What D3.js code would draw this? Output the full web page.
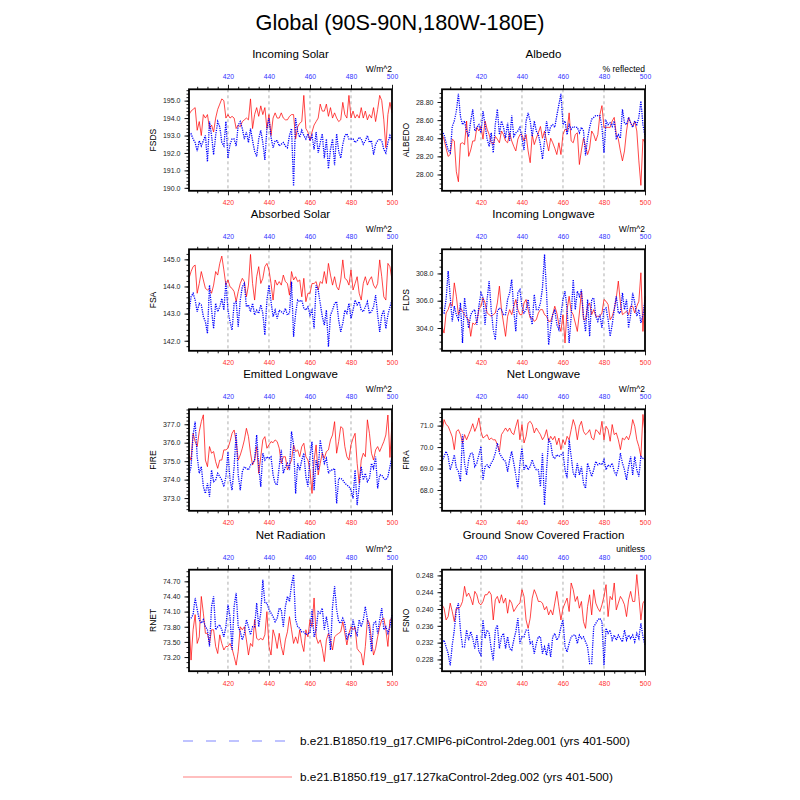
<!DOCTYPE html>
<html lang="en">
<head>
<meta charset="UTF-8">
<title>Global (90S-90N,180W-180E)</title>
<style>
  * { margin: 0; padding: 0; }
  body { background: #fff; }
  svg { display: block; font-family: "Liberation Sans", Arial, Helvetica, sans-serif; }
</style>
</head>
<body>
<script src="https://cdn.jsdelivr.net/npm/d3@7/dist/d3.min.js"></script>
<script>
// years 401-500, one value per model year
var years = d3.range(401, 501);

// piControl (blue) and 127ka (red) series
var fsdsCtl = [193.0,193.1,192.8,192.6,192.1,192.7,192.4,192.7,193.0,191.5,
  193.8,193.0,191.9,193.0,193.8,193.5,192.6,192.4,193.8,191.7,
  192.5,192.8,192.8,192.4,193.6,193.8,193.4,192.8,193.2,192.6,
  193.4,192.7,192.1,191.8,192.8,193.3,192.6,191.6,193.4,194.0,
  192.9,192.3,192.7,192.7,192.4,192.5,192.6,192.4,192.3,193.0,
  193.4,190.1,194.0,193.2,192.9,193.3,193.0,192.8,193.1,192.7,
  193.0,192.2,193.2,192.0,192.6,193.1,191.7,192.8,191.1,192.2,
  192.8,191.3,193.1,192.1,191.7,192.5,193.0,193.1,192.8,192.8,
  192.8,192.6,192.7,192.9,192.8,192.5,192.7,193.0,192.6,192.7,
  191.9,192.5,192.7,192.8,192.7,192.2,192.0,192.6,193.0,192.7];
var fsds127 = [194.2,194.4,194.5,194.6,193.3,193.8,193.0,194.2,194.0,194.2,
  193.4,193.6,193.2,194.0,194.5,194.8,195.1,195.0,194.0,194.2,
  194.0,194.1,194.0,193.4,193.6,193.5,193.8,193.9,194.0,193.9,
  195.1,193.4,194.2,194.6,194.1,194.7,194.2,194.6,193.4,194.2,
  193.0,194.0,194.3,194.0,194.0,194.3,194.0,193.9,193.9,194.1,
  194.2,194.2,192.8,193.5,193.7,193.8,195.3,193.4,193.2,192.7,
  193.2,193.6,193.8,194.0,194.8,194.4,194.4,194.8,194.1,194.6,
  194.0,194.3,194.0,193.8,193.9,194.9,194.2,194.0,195.3,194.0,
  194.4,194.0,194.2,194.0,194.6,194.0,194.4,193.9,194.2,194.0,
  194.6,193.8,194.5,195.3,195.0,193.9,192.3,194.2,194.9,194.3];

var albedoCtl = [28.48,28.44,28.35,28.27,28.24,28.53,28.59,28.70,28.89,28.64,
  28.55,28.59,28.48,28.42,28.59,28.72,28.48,28.52,28.55,28.46,
  28.70,28.55,28.39,28.31,28.46,28.24,28.55,28.72,28.44,28.59,
  28.52,28.40,28.57,28.37,28.65,28.42,28.46,28.48,28.52,28.40,
  28.27,28.59,28.68,28.59,28.42,28.59,28.48,28.44,28.33,28.17,
  28.37,28.59,28.44,28.53,28.55,28.52,28.65,28.77,28.89,28.55,
  28.59,28.44,28.55,28.50,28.53,28.52,28.52,28.46,28.52,28.48,
  28.21,28.40,28.52,28.61,28.63,28.65,28.65,28.65,28.52,28.24,
  28.59,28.55,28.57,28.53,28.59,28.40,28.44,28.40,28.72,28.57,
  28.55,28.63,28.57,28.52,28.59,28.55,28.63,28.81,28.55,28.42];
var albedo127 = [28.44,28.39,28.29,28.20,28.22,28.39,28.37,28.03,27.92,28.34,
  28.35,28.33,28.59,28.20,28.27,28.37,28.37,28.52,28.48,28.53,
  28.39,28.59,28.50,28.44,28.35,28.33,28.42,28.39,28.35,28.48,
  28.44,28.37,28.35,28.46,28.37,28.31,28.26,28.39,28.44,28.44,
  28.37,28.44,28.26,28.13,28.44,28.33,28.40,28.46,28.53,28.40,
  28.48,28.37,28.26,28.40,28.35,28.29,28.22,28.35,28.22,28.44,
  28.50,28.48,28.68,28.37,28.35,28.44,28.46,28.11,28.27,28.40,
  28.31,28.22,28.29,28.48,28.44,28.37,28.44,28.66,28.76,28.52,
  28.52,28.52,28.52,28.59,28.63,28.44,28.39,28.26,28.15,28.26,
  28.48,28.63,28.57,28.53,28.59,28.48,28.15,27.88,28.39,28.35];

var fsaCtl = [143.01,143.62,143.75,143.50,143.07,143.38,143.32,142.89,142.70,142.27,
  144.05,143.13,142.45,143.38,143.07,143.25,143.56,143.13,144.18,143.13,
  142.70,142.39,143.38,143.44,142.52,143.50,143.99,144.11,143.25,143.32,
  143.07,143.38,142.95,143.13,143.01,143.32,143.01,142.21,143.50,144.05,
  143.44,142.89,143.13,142.82,143.13,143.07,143.01,143.19,142.95,143.01,
  144.18,142.15,143.01,143.50,143.44,143.50,143.19,143.13,143.25,142.95,
  143.13,142.45,144.05,143.87,143.38,142.89,142.58,143.13,141.78,142.95,
  143.13,143.38,143.44,142.76,142.33,142.64,143.13,143.01,143.38,142.82,
  143.13,143.50,143.32,143.44,143.13,143.07,143.25,143.44,143.01,143.07,
  143.25,143.68,142.95,142.33,142.95,143.13,142.45,142.95,143.25,143.50];
var fsa127 = [144.30,144.55,144.73,144.79,143.75,144.11,144.55,144.24,143.93,143.87,
  143.93,143.75,144.05,144.55,144.42,144.85,145.12,144.61,144.05,144.24,
  143.99,143.93,143.81,143.44,143.81,144.11,144.30,144.18,143.62,144.05,
  145.18,144.11,143.50,144.36,144.73,144.11,144.30,144.73,144.85,144.61,
  144.11,143.50,144.24,144.05,144.18,144.05,144.42,144.18,144.11,143.68,
  144.55,144.24,144.36,144.18,144.24,143.62,144.30,143.44,143.75,143.75,
  144.11,144.11,144.18,143.87,144.18,144.11,144.55,144.11,144.85,144.42,
  144.05,144.36,143.99,143.87,144.24,144.98,144.30,144.24,144.05,144.61,
  143.87,144.11,144.36,143.75,143.50,144.11,144.36,144.05,144.24,144.36,
  144.05,143.93,144.11,144.98,144.36,143.62,143.50,144.85,144.73,144.24];

var fldsCtl = [305.23,305.10,306.09,308.17,306.33,304.49,305.60,304.98,304.61,305.84,
  302.90,306.21,304.98,304.00,304.98,305.23,305.35,304.25,305.60,306.58,
  306.21,304.25,306.09,307.44,305.35,303.88,303.14,305.23,305.47,305.35,
  304.98,304.98,306.09,306.58,307.56,305.35,303.75,306.58,306.82,305.60,
  305.10,305.35,306.09,304.98,304.25,306.45,305.35,305.35,305.84,306.94,
  309.40,306.58,302.77,303.98,304.98,305.35,304.25,303.88,304.98,306.09,
  306.70,305.35,302.90,304.86,307.56,305.35,306.70,306.33,306.82,304.86,
  303.75,306.09,303.39,306.09,306.21,304.86,304.49,304.98,304.00,305.35,
  305.47,304.61,303.39,304.25,305.35,306.33,305.10,305.10,306.58,305.35,
  306.09,304.00,304.98,306.58,305.84,304.86,305.35,304.37,304.98,306.09];
var flds127 = [304.12,303.63,305.10,305.35,305.84,305.60,307.31,306.33,304.98,305.47,
  305.23,304.98,304.74,304.61,303.39,304.37,304.25,304.49,305.35,305.60,
  306.21,305.84,305.10,304.98,304.86,304.98,305.10,305.84,307.07,305.35,
  304.37,303.39,304.86,305.35,304.98,305.60,306.09,305.35,304.98,304.98,
  305.84,306.09,305.35,304.74,304.74,304.49,304.61,305.10,305.35,305.35,
  304.98,304.86,304.49,304.49,304.98,305.60,305.10,304.25,303.75,304.98,
  302.90,305.35,306.33,305.23,304.98,304.37,303.75,305.10,306.70,304.61,
  304.61,305.60,305.84,304.98,305.35,304.86,304.86,304.86,305.10,306.09,
  305.96,305.72,304.61,304.86,305.35,306.21,307.44,305.84,304.98,305.10,
  305.23,304.98,305.60,305.60,305.10,305.60,305.96,308.05,303.75,306.33];

var fireCtl = [374.25,374.70,376.42,377.14,375.24,374.34,374.70,373.62,373.25,373.80,
  373.07,374.52,373.89,373.98,374.34,374.16,373.98,373.62,374.16,375.50,
  374.00,373.43,374.70,376.51,374.25,373.43,374.43,374.70,374.61,374.52,
  374.79,374.88,375.06,376.42,374.70,373.62,375.43,375.06,375.24,375.15,
  375.24,374.25,373.80,373.71,374.70,375.61,374.34,374.70,374.88,374.52,
  376.60,375.88,373.25,374.88,374.52,375.06,375.43,374.16,373.62,375.24,
  376.06,373.43,375.06,374.52,376.15,375.43,374.88,375.15,374.34,374.52,
  374.52,374.61,372.71,374.07,374.07,373.98,373.80,373.71,373.62,373.43,
  372.98,374.52,372.62,373.62,374.70,373.98,374.34,373.89,374.07,374.88,
  374.61,375.24,373.52,374.25,374.25,374.07,373.98,374.16,374.70,375.24];
var fire127 = [375.33,375.06,376.51,376.06,375.79,376.60,377.14,377.51,375.06,374.70,
  375.79,375.43,375.52,374.97,374.61,375.06,375.06,375.61,375.61,375.70,
  376.06,376.51,376.69,376.06,375.06,375.33,375.70,376.15,376.78,376.33,
  375.43,374.79,375.06,375.79,374.34,375.24,376.15,376.33,375.70,375.88,
  376.06,376.00,376.15,376.06,375.70,374.88,375.24,375.24,374.52,374.79,
  375.06,375.88,375.52,375.61,375.24,375.79,375.97,375.24,375.06,374.52,
  373.25,375.06,375.88,374.25,374.88,375.43,375.15,375.52,375.61,376.15,
  376.42,377.14,375.43,376.06,376.87,376.78,375.79,375.24,375.06,375.88,
  376.24,376.51,374.88,373.80,375.06,375.43,375.24,377.24,376.51,375.43,
  375.06,375.61,375.79,375.52,375.79,376.06,376.42,377.50,375.20,377.10];

var firaCtl = [69.33,69.56,69.80,69.56,68.94,69.25,69.64,69.02,68.86,68.39,
  70.58,69.25,68.70,69.41,69.72,69.72,69.09,69.25,69.64,70.03,
  68.47,69.09,69.17,69.02,69.25,69.41,69.72,70.19,69.72,69.56,
  69.41,69.33,68.86,69.41,69.80,69.25,68.70,68.08,69.25,69.95,
  68.94,69.17,68.94,69.09,69.41,69.09,68.94,68.94,68.16,69.72,
  67.30,68.94,70.34,70.19,69.56,69.48,69.64,69.56,69.64,69.72,
  68.94,68.55,70.34,69.56,68.78,68.63,69.25,68.70,69.09,68.31,
  68.08,69.25,68.94,68.63,68.94,69.33,69.17,69.25,69.17,69.41,
  68.94,69.17,69.09,69.25,68.86,68.70,69.02,69.72,69.25,68.94,
  68.47,69.09,69.56,68.70,69.56,68.94,68.63,69.56,69.48,69.41];
var fira127 = [70.73,71.28,71.05,70.97,70.73,70.47,69.88,70.73,70.81,70.58,
  70.19,70.58,70.34,70.58,70.81,71.09,70.73,70.97,71.36,70.73,
  70.42,70.50,70.58,70.34,70.42,70.34,70.34,70.11,69.80,70.58,
  70.73,70.89,70.73,70.89,70.66,70.58,70.97,71.28,70.34,71.05,
  70.19,70.50,71.12,71.20,71.05,70.66,70.89,70.73,70.58,70.34,
  70.50,70.81,70.27,70.50,70.34,70.50,70.11,70.42,69.88,70.34,
  70.11,70.50,70.34,70.81,71.28,70.97,70.34,70.97,71.20,70.73,
  70.58,70.66,70.81,70.42,70.34,70.81,70.73,70.58,71.20,70.34,
  70.97,70.81,70.27,71.05,70.58,70.66,70.34,69.88,70.42,70.34,
  70.50,70.34,70.66,71.28,70.97,70.34,70.03,69.56,71.52,70.66];

var rnetCtl = [73.94,73.97,74.04,74.37,74.14,73.94,73.87,73.94,73.80,73.74,
  73.41,74.20,74.40,73.74,73.80,73.84,73.74,73.60,73.80,74.24,
  74.00,73.34,74.20,74.47,73.80,73.70,73.54,73.67,73.94,73.80,
  73.64,73.80,73.80,74.27,73.80,74.07,74.73,74.27,74.27,74.14,
  74.07,74.00,73.90,73.97,74.17,74.14,73.80,74.20,74.40,74.30,
  74.63,74.83,73.94,73.80,73.77,73.70,73.70,73.64,73.67,73.67,
  74.14,73.60,73.74,74.10,74.07,74.17,73.74,74.00,73.74,73.34,
  74.20,74.60,74.14,73.90,73.87,73.97,73.87,73.54,73.67,73.60,
  73.94,73.74,73.64,73.94,73.80,73.94,74.20,73.94,73.74,73.31,
  73.87,73.90,73.67,73.94,74.17,73.74,73.80,73.67,73.80,74.04];
var rnet127 = [73.94,73.14,73.74,74.04,73.47,73.60,74.40,74.07,73.67,73.67,
  73.47,73.74,73.74,73.41,73.27,73.64,73.47,73.34,73.41,73.41,
  73.47,73.37,73.21,73.04,73.31,73.80,73.74,73.80,73.54,73.24,
  73.47,73.41,73.94,73.57,73.54,73.57,73.54,73.64,74.10,73.41,
  73.24,73.74,73.60,73.37,73.67,73.41,73.24,73.54,73.70,74.00,
  73.74,73.47,73.60,73.47,73.74,73.47,73.31,73.74,73.60,73.94,
  73.80,74.37,73.60,73.47,73.54,73.37,73.11,73.54,73.67,73.54,
  73.34,73.60,73.64,73.67,73.70,73.90,73.67,73.44,73.67,73.80,
  73.74,73.80,73.37,73.31,73.27,73.04,73.41,73.94,73.87,73.54,
  73.24,73.37,73.60,73.80,73.94,73.97,73.74,73.41,73.94,73.97];

var fsnoCtl = [0.2318,0.2326,0.2310,0.2294,0.2266,0.2314,0.2350,0.2398,0.2414,0.2350,
  0.2310,0.2310,0.2350,0.2326,0.2346,0.2330,0.2306,0.2338,0.2298,0.2290,
  0.2374,0.2330,0.2350,0.2342,0.2306,0.2278,0.2350,0.2362,0.2306,0.2334,
  0.2342,0.2306,0.2334,0.2306,0.2302,0.2326,0.2346,0.2378,0.2318,0.2334,
  0.2334,0.2350,0.2350,0.2318,0.2322,0.2294,0.2318,0.2334,0.2334,0.2294,
  0.2310,0.2290,0.2318,0.2286,0.2334,0.2342,0.2326,0.2334,0.2358,0.2374,
  0.2310,0.2298,0.2318,0.2334,0.2338,0.2338,0.2318,0.2338,0.2330,0.2334,
  0.2322,0.2310,0.2270,0.2270,0.2358,0.2366,0.2374,0.2378,0.2370,0.2266,
  0.2354,0.2342,0.2350,0.2326,0.2338,0.2326,0.2338,0.2330,0.2322,0.2350,
  0.2326,0.2338,0.2330,0.2338,0.2322,0.2342,0.2330,0.2366,0.2334,0.2314];
var fsno127 = [0.2410,0.2402,0.2374,0.2382,0.2414,0.2394,0.2370,0.2402,0.2400,0.2406,
  0.2418,0.2454,0.2430,0.2438,0.2426,0.2410,0.2442,0.2434,0.2414,0.2410,
  0.2418,0.2434,0.2434,0.2442,0.2434,0.2374,0.2422,0.2430,0.2414,0.2434,
  0.2414,0.2426,0.2390,0.2422,0.2414,0.2394,0.2402,0.2410,0.2414,0.2446,
  0.2430,0.2374,0.2354,0.2378,0.2426,0.2446,0.2434,0.2418,0.2418,0.2414,
  0.2398,0.2406,0.2386,0.2398,0.2386,0.2414,0.2442,0.2406,0.2374,0.2402,
  0.2414,0.2426,0.2394,0.2462,0.2446,0.2418,0.2430,0.2402,0.2418,0.2370,
  0.2354,0.2406,0.2434,0.2386,0.2446,0.2414,0.2402,0.2394,0.2410,0.2430,
  0.2458,0.2382,0.2430,0.2422,0.2462,0.2398,0.2414,0.2430,0.2422,0.2410,
  0.2382,0.2422,0.2442,0.2418,0.2418,0.2482,0.2430,0.2374,0.2414,0.2422];

var xMajor = [420, 440, 460, 480, 500];
var xMinor = [405, 410, 415, 425, 430, 435, 445, 450, 455, 465, 470, 475, 485, 490, 495];
var caseNames = ['b.e21.B1850.f19_g17.CMIP6-piControl-2deg.001 (yrs 401-500)',
                 'b.e21.B1850.f19_g17.127kaControl-2deg.002 (yrs 401-500)'];

var panels = [
  {title: 'Incoming Solar', name: 'FSDS', units: 'W/m^2', ctl: fsdsCtl, lig: fsds127, yDomain: [189.83, 195.65], step: 1, minor: 0.2, fmt: '.1f'},
  {title: 'Albedo', name: 'ALBEDO', units: '% reflected', ctl: albedoCtl, lig: albedo127, yDomain: [27.82, 28.94], step: 0.2, minor: 0.05, fmt: '.2f'},
  {title: 'Absorbed Solar', name: 'FSA', units: 'W/m^2', ctl: fsaCtl, lig: fsa127, yDomain: [141.63, 145.37], step: 1, minor: 0.2, fmt: '.1f'},
  {title: 'Incoming Longwave', name: 'FLDS', units: 'W/m^2', ctl: fldsCtl, lig: flds127, yDomain: [302.33, 309.77], step: 2, minor: 0.5, fmt: '.1f'},
  {title: 'Emitted Longwave', name: 'FIRE', units: 'W/m^2', ctl: fireCtl, lig: fire127, yDomain: [372.31, 377.81], step: 1, minor: 0.2, fmt: '.1f'},
  {title: 'Net Longwave', name: 'FIRA', units: 'W/m^2', ctl: firaCtl, lig: fira127, yDomain: [67.03, 71.76], step: 1, minor: 0.2, fmt: '.1f'},
  {title: 'Net Radiation', name: 'RNET', units: 'W/m^2', ctl: rnetCtl, lig: rnet127, yDomain: [72.92, 74.93], step: 0.3, minor: 0.1, fmt: '.2f'},
  {title: 'Ground Snow Covered Fraction', name: 'FSNO', units: 'unitless', ctl: fsnoCtl, lig: fsno127, yDomain: [0.2252, 0.24936], step: 0.004, minor: 0.001, fmt: '.3f'}
];

// layout
var width = 800, height = 800;
var colX = [189, 442];
var rowY = [89.3, 249.3, 409.3, 569.7];
var pw = 203, ph = 101.5;
var blue = '#0000ff', red = '#ff0000';

var svg = d3.select('body').append('svg').attr('width', width).attr('height', height);
svg.append('rect').attr('width', width).attr('height', height).attr('fill', '#fff');

svg.append('text')
  .attr('x', 400).attr('y', 30)
  .attr('text-anchor', 'middle')
  .style('font-size', '21.7px')
  .text('Global (90S-90N,180W-180E)');

function stepTicks(domain, step) {
  var k0 = Math.ceil(domain[0] / step - 1e-6), k1 = Math.floor(domain[1] / step + 1e-6);
  return d3.range(k0, k1 + 1).map(function (k) { return +(k * step).toFixed(6); });
}

function styleAxis(sel, color, size) {
  sel.select('.domain').remove();
  sel.selectAll('line').attr('stroke', '#000').attr('stroke-width', 0.9);
  sel.selectAll('text').attr('fill', color).style('font-size', size).style('font-family', null);
}

panels.forEach(function (p, i) {
  var col = i % 2, row = Math.floor(i / 2);
  var g = svg.append('g').attr('transform', 'translate(' + colX[col] + ',' + rowY[row] + ')');

  var x = d3.scaleLinear().domain([401, 500]).range([0, pw]);
  var y = d3.scaleLinear().domain(p.yDomain).range([ph, 0]);

  // dashed grid at major years
  g.selectAll('.grid')
    .data(xMajor.slice(0, 4))
    .enter()
    .append('line')
    .attr('x1', function (d) { return x(d); })
    .attr('x2', function (d) { return x(d); })
    .attr('y1', 0).attr('y2', ph)
    .attr('stroke', '#999').attr('stroke-width', 0.8)
    .attr('stroke-dasharray', '3,3');

  var line = d3.line()
    .x(function (d, j) { return x(years[j]); })
    .y(function (d) { return y(d); });

  g.append('path').datum(p.lig)
    .attr('d', line)
    .attr('fill', 'none')
    .attr('stroke', red).attr('stroke-width', 0.9).attr('stroke-opacity', 0.8);

  g.append('path').datum(p.ctl)
    .attr('d', line)
    .attr('fill', 'none')
    .attr('stroke', blue).attr('stroke-width', 1.3)
    .attr('stroke-dasharray', '1.2,1.1');

  // top axis (blue years)
  g.append('g').call(d3.axisTop(x).tickValues(xMajor).tickSize(4.5).tickPadding(5.5).tickSizeOuter(0))
    .call(styleAxis, '#3030ff', '6.8px');
  g.append('g').call(d3.axisTop(x).tickValues(xMinor).tickSize(2.5).tickFormat('').tickSizeOuter(0))
    .call(styleAxis, '#000', '6.8px');

  // bottom axis (red years)
  g.append('g').attr('transform', 'translate(0,' + ph + ')')
    .call(d3.axisBottom(x).tickValues(xMajor).tickSize(4.5).tickPadding(5).tickSizeOuter(0))
    .call(styleAxis, '#ff3030', '6.8px');
  g.append('g').attr('transform', 'translate(0,' + ph + ')')
    .call(d3.axisBottom(x).tickValues(xMinor).tickSize(2.5).tickFormat('').tickSizeOuter(0))
    .call(styleAxis, '#000', '6.8px');

  // left axis
  g.append('g')
    .call(d3.axisLeft(y).tickValues(stepTicks(p.yDomain, p.step)).tickFormat(d3.format(p.fmt)).tickSize(4.5).tickPadding(4).tickSizeOuter(0))
    .call(styleAxis, '#222', '7px');
  g.append('g')
    .call(d3.axisLeft(y).tickValues(stepTicks(p.yDomain, p.minor)).tickSize(2.5).tickFormat('').tickSizeOuter(0))
    .call(styleAxis, '#000', '7px');

  // frame
  g.append('rect')
    .attr('width', pw).attr('height', ph)
    .attr('fill', 'none').attr('stroke', '#000').attr('stroke-width', 1.8);

  g.append('text')
    .attr('x', pw / 2).attr('y', -31)
    .attr('text-anchor', 'middle')
    .style('font-size', '11.5px')
    .text(p.title);

  g.append('text')
    .attr('x', pw).attr('y', -17.5)
    .attr('text-anchor', 'end')
    .style('font-size', '8.5px')
    .text(p.units);

  g.append('text')
    .attr('transform', 'translate(-33,' + (ph / 2) + ') rotate(-90)')
    .attr('text-anchor', 'middle')
    .style('font-size', '8.5px')
    .text(p.name);
});

// legend
var legend = svg.append('g');
var legendY = [741, 777];
legend.append('line')
  .attr('x1', 183).attr('x2', 292).attr('y1', legendY[0]).attr('y2', legendY[0])
  .attr('stroke', '#aab0ff').attr('stroke-width', 1.5).attr('stroke-dasharray', '10,13');
legend.append('line')
  .attr('x1', 183).attr('x2', 292).attr('y1', legendY[1]).attr('y2', legendY[1])
  .attr('stroke', '#ffaaaa').attr('stroke-width', 1.5);
legend.selectAll('.legend-text')
  .data(caseNames)
  .enter()
  .append('text')
  .attr('x', 300)
  .attr('y', function (d, i) { return legendY[i] + 4; })
  .style('font-size', '11.8px')
  .text(function (d) { return d; });
</script>
</body>
</html>
